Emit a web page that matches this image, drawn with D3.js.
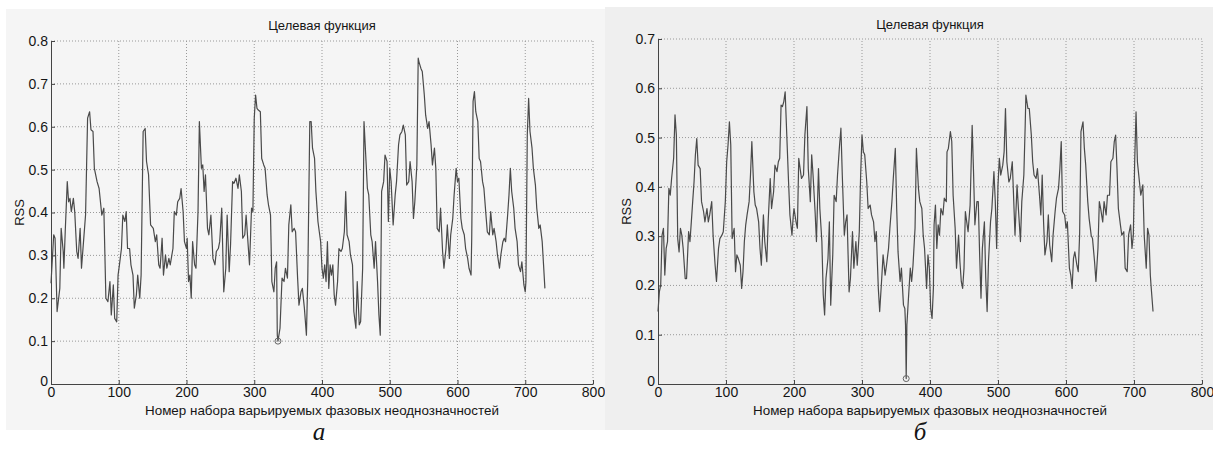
<!DOCTYPE html>
<html>
<head>
<meta charset="utf-8">
<script src="https://cdn.jsdelivr.net/npm/d3@7"></script>
<style>
  body { margin: 0; background: #fff; }
  svg { display: block; }
  text { font-family: "Liberation Sans", Arial, sans-serif; fill: #151515; }
</style>
</head>
<body>
<svg id="chart" width="1213" height="458"></svg>
<script>
const chartTitle = 'Целевая функция';
const xLabel = 'Номер набора варьируемых фазовых неоднозначностей';
const yLabel = 'RSS';
const xTicks = [0, 100, 200, 300, 400, 500, 600, 700, 800];
const yTicksA = [0, 0.1, 0.2, 0.3, 0.4, 0.5, 0.6, 0.7, 0.8];
const yTicksB = [0, 0.1, 0.2, 0.3, 0.4, 0.5, 0.6, 0.7];

// [номер набора, RSS] — панель а
const rssA = [
  [0,.235],[4,.348],[6,.340],[9,.169],[13,.223],[15,.363],[18,.309],[19,.270],[21,.355],[24,.472],
  [26,.425],[28,.433],[30,.402],[33,.433],[35,.402],[38,.309],[40,.293],[43,.363],[45,.270],[48,.332],
  [51,.394],[54,.620],[57,.635],[59,.593],[62,.589],[64,.503],[68,.472],[71,.456],[75,.394],[78,.410],
  [81,.200],[84,.192],[87,.239],[89,.161],[92,.231],[94,.153],[97,.145],[99,.254],[101,.278],[104,.316],
  [106,.394],[109,.379],[111,.402],[113,.316],[116,.316],[118,.278],[121,.254],[123,.177],[126,.208],[128,.254],
  [131,.200],[133,.254],[136,.589],[139,.596],[141,.519],[144,.488],[147,.371],[151,.363],[154,.332],[156,.348],
  [159,.278],[161,.270],[164,.340],[166,.254],[169,.301],[171,.270],[174,.293],[176,.278],[180,.316],[182,.402],
  [185,.394],[187,.425],[190,.433],[192,.456],[195,.402],[197,.332],[200,.316],[201,.340],[203,.239],[205,.254],
  [207,.200],[209,.332],[212,.278],[214,.270],[217,.402],[219,.612],[222,.503],[224,.511],[226,.449],[228,.488],
  [231,.363],[233,.348],[236,.394],[239,.293],[242,.278],[244,.309],[247,.316],[249,.332],[252,.410],[255,.215],
  [258,.270],[260,.394],[263,.262],[265,.324],[268,.472],[270,.468],[273,.480],[276,.456],[278,.488],[281,.449],
  [283,.340],[286,.348],[288,.394],[291,.324],[293,.278],[296,.410],[298,.402],[300,.620],[302,.674],[304,.643],
  [306,.639],[309,.635],[311,.526],[314,.511],[316,.503],[319,.441],[321,.418],[324,.394],[326,.239],[329,.215],
  [331,.270],[333,.285],[334,.114],[335,.100],[338,.130],[341,.247],[344,.239],[346,.270],[349,.247],[351,.371],
  [354,.418],[356,.355],[359,.363],[361,.355],[364,.247],[366,.184],[369,.215],[371,.223],[374,.177],[377,.114],
  [379,.247],[382,.612],[384,.612],[386,.550],[389,.526],[391,.449],[394,.379],[396,.355],[398,.332],[400,.270],
  [402,.247],[404,.278],[406,.239],[408,.332],[410,.223],[412,.278],[414,.254],[416,.278],[418,.208],[420,.184],
  [423,.239],[425,.316],[428,.309],[430,.316],[433,.355],[435,.449],[437,.348],[440,.332],[442,.301],[445,.278],
  [447,.169],[450,.130],[452,.239],[455,.138],[457,.145],[460,.270],[462,.612],[465,.519],[467,.456],[469,.441],
  [472,.348],[474,.332],[477,.270],[479,.332],[482,.239],[484,.161],[486,.114],[488,.449],[491,.472],[493,.534],
  [496,.519],[498,.379],[500,.503],[502,.472],[505,.371],[508,.441],[510,.472],[513,.558],[515,.581],[518,.589],
  [520,.604],[523,.581],[525,.464],[528,.472],[530,.519],[533,.472],[535,.386],[537,.425],[540,.511],[542,.760],
  [543,.752],[546,.736],[548,.729],[551,.674],[553,.627],[556,.596],[558,.612],[561,.558],[563,.511],[566,.550],
  [568,.503],[570,.363],[573,.355],[575,.410],[578,.309],[580,.270],[583,.316],[585,.371],[588,.293],[590,.348],
  [593,.386],[595,.441],[598,.503],[600,.472],[602,.480],[605,.386],[607,.363],[610,.348],[612,.316],[615,.293],
  [617,.270],[620,.254],[621,.340],[623,.659],[625,.682],[627,.635],[630,.612],[632,.526],[634,.519],[637,.472],
  [639,.456],[642,.394],[644,.355],[647,.348],[649,.402],[652,.348],[654,.363],[657,.332],[659,.301],[662,.270],
  [664,.301],[667,.332],[669,.340],[671,.332],[674,.394],[676,.441],[678,.503],[680,.449],[683,.410],[685,.363],
  [688,.332],[690,.278],[693,.262],[695,.285],[698,.231],[700,.215],[701,.239],[703,.581],[705,.666],[707,.589],
  [710,.550],[712,.503],[715,.464],[717,.410],[720,.363],[722,.371],[725,.332],[727,.278],[729,.223]
];

// [номер набора, RSS] — панель б
const rssB = [
  [0,.147],[2,.187],[4,.201],[6,.302],[8,.316],[10,.221],[12,.275],[14,.289],[16,.397],[18,.383],
  [20,.417],[23,.458],[25,.546],[27,.505],[29,.295],[31,.268],[33,.316],[35,.302],[37,.275],[40,.214],
  [42,.214],[45,.309],[47,.289],[49,.329],[51,.370],[53,.410],[55,.465],[57,.498],[59,.444],[62,.437],
  [64,.370],[67,.350],[69,.329],[72,.356],[74,.329],[76,.343],[79,.370],[81,.302],[84,.241],[86,.208],
  [89,.275],[91,.295],[94,.302],[96,.309],[99,.370],[101,.451],[103,.485],[105,.532],[107,.485],[109,.295],
  [112,.316],[114,.228],[116,.262],[118,.255],[121,.241],[123,.194],[125,.228],[127,.289],[129,.323],[131,.343],
  [134,.370],[136,.424],[138,.492],[141,.390],[143,.363],[145,.356],[148,.329],[150,.275],[152,.241],[155,.343],
  [157,.289],[160,.248],[162,.329],[165,.417],[167,.356],[170,.390],[172,.444],[175,.431],[177,.451],[179,.458],
  [181,.566],[183,.563],[185,.573],[187,.593],[189,.519],[192,.410],[194,.343],[197,.302],[199,.343],[200,.356],
  [203,.329],[205,.316],[207,.458],[209,.437],[211,.417],[214,.424],[216,.505],[219,.563],[221,.437],[224,.370],
  [226,.465],[228,.424],[231,.350],[233,.289],[236,.437],[238,.356],[241,.289],[243,.181],[245,.140],[247,.214],
  [250,.255],[252,.329],[254,.160],[257,.262],[259,.383],[262,.370],[264,.424],[267,.485],[269,.519],[271,.424],
  [274,.302],[276,.329],[278,.343],[281,.187],[283,.214],[286,.309],[288,.235],[291,.289],[293,.241],[296,.309],
  [298,.424],[300,.505],[302,.471],[304,.465],[307,.410],[309,.356],[312,.363],[314,.343],[317,.329],[319,.289],
  [321,.309],[324,.194],[326,.147],[329,.214],[331,.262],[334,.221],[336,.241],[339,.275],[341,.316],[344,.370],
  [346,.417],[349,.478],[351,.356],[353,.268],[356,.208],[358,.235],[361,.160],[363,.153],[364,.120],[365,.011],
  [366,.120],[368,.167],[371,.235],[373,.208],[375,.241],[378,.316],[380,.478],[383,.397],[385,.370],[388,.356],
  [390,.302],[392,.275],[395,.194],[397,.262],[399,.235],[401,.153],[403,.133],[405,.194],[406,.323],[408,.363],
  [410,.275],[412,.323],[414,.302],[416,.356],[419,.343],[421,.377],[424,.370],[425,.471],[427,.478],[430,.512],
  [432,.492],[434,.383],[437,.316],[439,.235],[442,.302],[444,.248],[446,.208],[448,.194],[450,.235],[452,.350],
  [454,.329],[456,.309],[459,.363],[462,.525],[464,.431],[466,.323],[469,.370],[471,.370],[473,.262],[475,.174],
  [477,.275],[480,.329],[482,.214],[484,.147],[486,.248],[489,.329],[491,.356],[494,.431],[496,.370],[498,.275],
  [500,.404],[502,.458],[504,.424],[507,.444],[509,.471],[511,.559],[513,.451],[516,.410],[518,.417],[521,.451],
  [523,.377],[525,.302],[528,.404],[530,.356],[533,.289],[535,.370],[538,.424],[540,.525],[541,.586],[544,.559],
  [546,.559],[549,.505],[551,.451],[553,.424],[556,.417],[558,.437],[561,.383],[563,.343],[565,.424],[567,.329],
  [569,.262],[572,.289],[574,.343],[576,.282],[579,.248],[581,.302],[584,.350],[586,.377],[589,.397],[591,.437],
  [593,.492],[595,.350],[598,.343],[600,.316],[602,.329],[605,.235],[607,.221],[609,.194],[611,.255],[613,.268],
  [616,.241],[618,.228],[620,.302],[622,.512],[625,.532],[627,.478],[629,.444],[632,.370],[634,.336],[637,.302],
  [639,.295],[642,.248],[644,.208],[647,.275],[649,.370],[651,.356],[654,.329],[656,.370],[659,.343],[661,.383],
  [664,.383],[666,.451],[669,.458],[671,.492],[673,.505],[675,.437],[677,.356],[680,.323],[682,.302],[685,.309],
  [687,.235],[690,.228],[692,.302],[695,.323],[697,.275],[699,.302],[701,.451],[703,.552],[705,.451],[708,.410],
  [710,.383],[713,.404],[715,.302],[718,.235],[720,.316],[722,.302],[724,.221],[725,.201],[728,.147]
];

const svg = d3.select('#chart');

function drawPanel(p) {
  const g = svg.append('g');

  g.append('rect')
    .attr('x', p.bg[0]).attr('y', p.bg[1])
    .attr('width', p.bg[2]).attr('height', p.bg[3])
    .attr('fill', p.fill);

  const x = d3.scaleLinear().domain([0, 800]).range([p.left, p.right]);
  const y = d3.scaleLinear().domain([0, d3.max(p.yTicks)]).range([p.bottom, p.top]);

  // dotted grid (incl. the top and right edges, as in MATLAB with box off)
  g.append('g').selectAll('line.vg')
    .data(xTicks.slice(1))
    .join('line')
    .attr('x1', d => x(d)).attr('x2', d => x(d))
    .attr('y1', y.range()[0]).attr('y2', y.range()[1])
    .attr('stroke', '#999').attr('stroke-width', 1)
    .attr('stroke-dasharray', '1,2');

  g.append('g').selectAll('line.hg')
    .data(p.yTicks.slice(1))
    .join('line')
    .attr('x1', x.range()[0]).attr('x2', x.range()[1])
    .attr('y1', d => y(d)).attr('y2', d => y(d))
    .attr('stroke', '#999').attr('stroke-width', 1)
    .attr('stroke-dasharray', '1,2');

  const xAxis = d3.axisBottom(x)
    .tickValues(xTicks)
    .tickFormat(d3.format('d'))
    .tickSize(-4)
    .tickSizeOuter(0)
    .tickPadding(3);

  const yAxis = d3.axisLeft(y)
    .tickValues(p.yTicks)
    .tickFormat(d => d === 0 ? '0' : d3.format('.1f')(d))
    .tickSize(-4)
    .tickSizeOuter(0)
    .tickPadding(3);

  const xg = g.append('g')
    .attr('transform', `translate(0,${p.bottom})`)
    .call(xAxis);
  const yg = g.append('g')
    .attr('transform', `translate(${p.left},0)`)
    .call(yAxis);

  [xg, yg].forEach(a => {
    a.select('.domain').attr('stroke', '#444');
    a.selectAll('.tick line').attr('stroke', '#444');
    a.selectAll('.tick text')
      .attr('font-size', 14)
      .attr('font-family', '"Liberation Sans", Arial, sans-serif')
      .attr('fill', '#151515');
  });
  // MATLAB puts the zero label of the y axis slightly lower
  yg.selectAll('.tick text').filter(d => d === 0).attr('dy', '0.1em');

  const line = d3.line()
    .x(d => x(d[0]))
    .y(d => y(d[1]));

  g.append('path')
    .datum(p.data)
    .attr('d', line)
    .attr('fill', 'none')
    .attr('stroke', '#4a4a4a')
    .attr('stroke-width', 1.2)
    .attr('stroke-linejoin', 'round');

  const best = p.data.reduce((a, b) => (b[1] < a[1] ? b : a));
  g.append('circle')
    .attr('cx', x(best[0])).attr('cy', y(best[1]))
    .attr('r', 3)
    .attr('fill', 'none')
    .attr('stroke', '#666')
    .attr('stroke-width', 1);

  const cx = (p.left + p.right) / 2;

  g.append('text')
    .attr('x', cx).attr('y', p.titleY)
    .attr('text-anchor', 'middle')
    .attr('font-size', 13)
    .text(chartTitle);

  g.append('text')
    .attr('x', cx).attr('y', 415)
    .attr('text-anchor', 'middle')
    .attr('font-size', 13.4)
    .text(xLabel);

  g.append('text')
    .attr('transform', `translate(${p.yLabelX},${(p.top + p.bottom) / 2}) rotate(-90)`)
    .attr('text-anchor', 'middle')
    .attr('font-size', 13)
    .text(yLabel);

  svg.append('text')
    .attr('x', p.letterX).attr('y', 440)
    .attr('text-anchor', 'middle')
    .attr('font-style', 'italic')
    .attr('font-size', 25)
    .style('font-family', '"Liberation Serif", "Times New Roman", serif')
    .text(p.letter);
}

drawPanel({
  data: rssA, yTicks: yTicksA,
  bg: [6, 9, 599, 421], fill: '#f5f5f5',
  left: 51, right: 593, top: 41, bottom: 384,
  titleY: 30, yLabelX: 24, letterX: 319, letter: 'а'
});

drawPanel({
  data: rssB, yTicks: yTicksB,
  bg: [605, 7, 608, 423], fill: '#efefef',
  left: 658, right: 1202, top: 39, bottom: 384,
  titleY: 29, yLabelX: 631, letterX: 920, letter: 'б'
});
</script>
</body>
</html>
